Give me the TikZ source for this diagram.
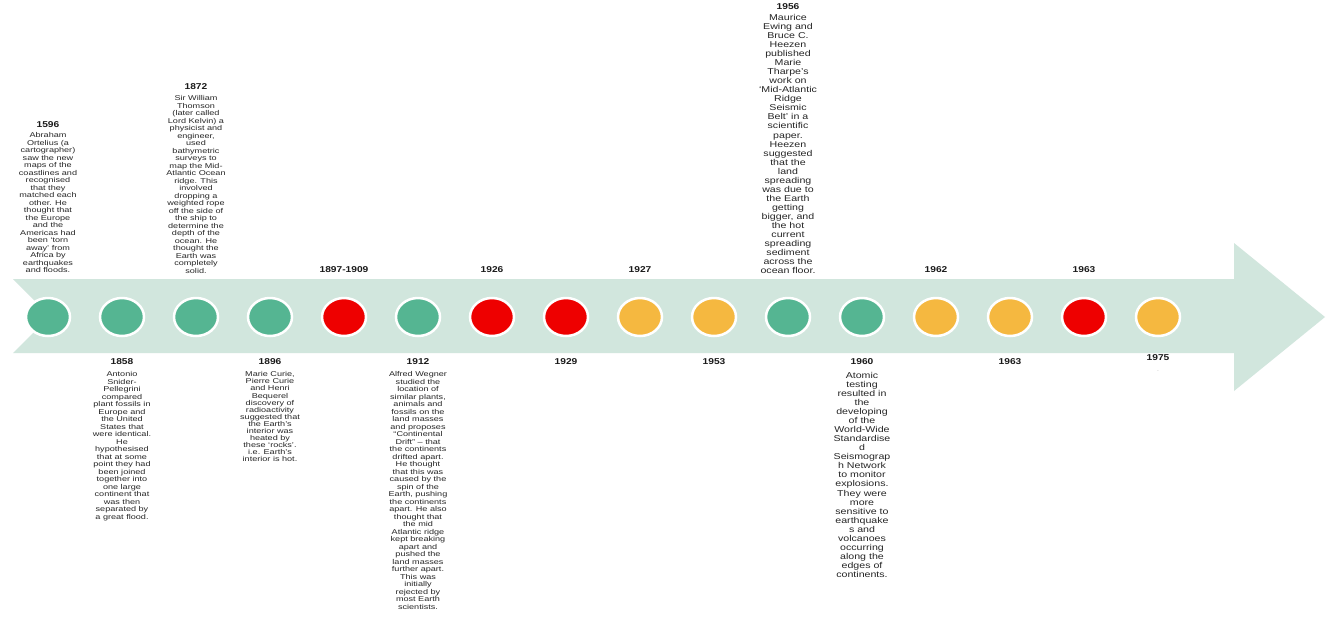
\documentclass[tikz,border=0pt]{standalone}
\usepackage{fontspec}
\setmainfont{Liberation Sans}
\newfontfamily\descfont[FakeStretch=1.3]{Liberation Sans}
\newfontfamily\bigdescfont[FakeStretch=1.25]{Liberation Sans}
\newfontfamily\yearfont[FakeStretch=1.2]{Liberation Sans}
\usetikzlibrary{shapes.geometric}
\definecolor{bandcol}{HTML}{D1E6DD}
\definecolor{greencol}{HTML}{55B592}
\definecolor{redcol}{HTML}{EE0000}
\definecolor{orangecol}{HTML}{F5B840}
\tikzset{
  dot/.style={ellipse, minimum width=44pt, minimum height=38pt, draw=white, line width=2.5pt, inner sep=0},
  gdot/.style={dot, fill=greencol},
  rdot/.style={dot, fill=redcol},
  odot/.style={dot, fill=orangecol},
  yearlab/.style={font=\yearfont\bfseries\fontsize{8.5}{9}\selectfont, inner sep=0, text=black!90},
  desc/.style={font=\descfont\fontsize{7}{7.5}\selectfont, align=center, inner sep=0, anchor=north, text=black!85},
  descb/.style={font=\descfont\fontsize{7}{7.1}\selectfont, align=center, inner sep=0, anchor=north, text=black!85},
  bigdesc/.style={font=\bigdescfont\fontsize{8.5}{9.05}\selectfont, align=center, inner sep=0, anchor=north, text=black!85}
}
\begin{document}
\begin{tikzpicture}[x=1pt,y=-1pt]
\useasboundingbox (0,0) rectangle (1340,630);
\fill[white] (0,0) rectangle (1340,630);
% band arrow
\fill[bandcol] (13,279) -- (1234,279) -- (1234,243) -- (1325,317) -- (1234,391) -- (1234,353) -- (13,353) -- (50,316) -- cycle;
% dots
\node[gdot] (c1) at (48,317) {};
\node[gdot] (c2) at (122,317) {};
\node[gdot] (c3) at (196,317) {};
\node[gdot] (c4) at (270,317) {};
\node[rdot] (c5) at (344,317) {};
\node[gdot] (c6) at (418,317) {};
\node[rdot] (c7) at (492,317) {};
\node[rdot] (c8) at (566,317) {};
\node[odot] (c9) at (640,317) {};
\node[odot] (c10) at (714,317) {};
\node[gdot] (c11) at (788,317) {};
\node[gdot] (c12) at (862,317) {};
\node[odot] (c13) at (936,317) {};
\node[odot] (c14) at (1010,317) {};
\node[rdot] (c15) at (1084,317) {};
\node[odot] (c16) at (1158,317) {};
% top labels
\node[yearlab] (y1) at (48,125) {1596};
\node[desc] (d1) at (48,132.5) {Abraham\\Ortelius (a\\cartographer)\\saw the new\\maps of the\\coastlines and\\recognised\\that they\\matched each\\other. He\\thought that\\the Europe\\and the\\Americas had\\been ‘torn\\away’ from\\Africa by\\earthquakes\\and floods.};
\node[yearlab] (y3) at (196,87) {1872};
\node[desc] (d3) at (196,95.5) {Sir William\\Thomson\\(later called\\Lord Kelvin) a\\physicist and\\engineer,\\used\\bathymetric\\surveys to\\map the Mid-\\Atlantic Ocean\\ridge. This\\involved\\dropping a\\weighted rope\\off the side of\\the ship to\\determine the\\depth of the\\ocean. He\\thought the\\Earth was\\completely\\solid.};
\node[yearlab] (y5) at (344,270) {1897-1909};
\node[yearlab] (y7) at (492,270) {1926};
\node[yearlab] (y9) at (640,270) {1927};
\node[yearlab] (y11) at (788,7) {1956};
\node[bigdesc] (d11) at (788,14) {Maurice\\Ewing and\\Bruce C.\\Heezen\\published\\Marie\\Tharpe’s\\work on\\‘Mid-Atlantic\\Ridge\\Seismic\\Belt’ in a\\scientific\\paper.\\Heezen\\suggested\\that the\\land\\spreading\\was due to\\the Earth\\getting\\bigger, and\\the hot\\current\\spreading\\sediment\\across the\\ocean floor.};
\node[yearlab] (y13) at (936,270) {1962};
\node[yearlab] (y15) at (1084,270) {1963};
% bottom labels
\node[yearlab] (y2) at (122,362) {1858};
\node[desc] (d2) at (122,371.5) {Antonio\\Snider-\\Pellegrini\\compared\\plant fossils in\\Europe and\\the United\\States that\\were identical.\\He\\hypothesised\\that at some\\point they had\\been joined\\together into\\one large\\continent that\\was then\\separated by\\a great flood.};
\node[yearlab] (y4) at (270,362) {1896};
\node[descb] (d4) at (270,371.5) {Marie Curie,\\Pierre Curie\\and Henri\\Bequerel\\discovery of\\radioactivity\\suggested that\\the Earth’s\\interior was\\heated by\\these ‘rocks’.\\i.e. Earth’s\\interior is hot.};
\node[yearlab] (y6) at (418,362) {1912};
\node[desc] (d6) at (418,371.5) {Alfred Wegner\\studied the\\location of\\similar plants,\\animals and\\fossils on the\\land masses\\and proposes\\“Continental\\Drift” – that\\the continents\\drifted apart.\\He thought\\that this was\\caused by the\\spin of the\\Earth, pushing\\the continents\\apart. He also\\thought that\\the mid\\Atlantic ridge\\kept breaking\\apart and\\pushed the\\land masses\\further apart.\\This was\\initially\\rejected by\\most Earth\\scientists.};
\node[yearlab] (y8) at (566,362) {1929};
\node[yearlab] (y10) at (714,362) {1953};
\node[yearlab] (y12) at (862,362) {1960};
\node[bigdesc] (d12) at (862,372) {Atomic\\testing\\resulted in\\the\\developing\\of the\\World-Wide\\Standardise\\d\\Seismograp\\h Network\\to monitor\\explosions.\\They were\\more\\sensitive to\\earthquake\\s and\\volcanoes\\occurring\\along the\\edges of\\continents.};
\node[yearlab] (y14) at (1010,362) {1963};
\node[yearlab] (y16) at (1158,358) {1975};
\node[inner sep=0, font=\fontsize{5}{5}\selectfont, text=black!50] (d16) at (1158,371) {.};
\end{tikzpicture}
\end{document}
